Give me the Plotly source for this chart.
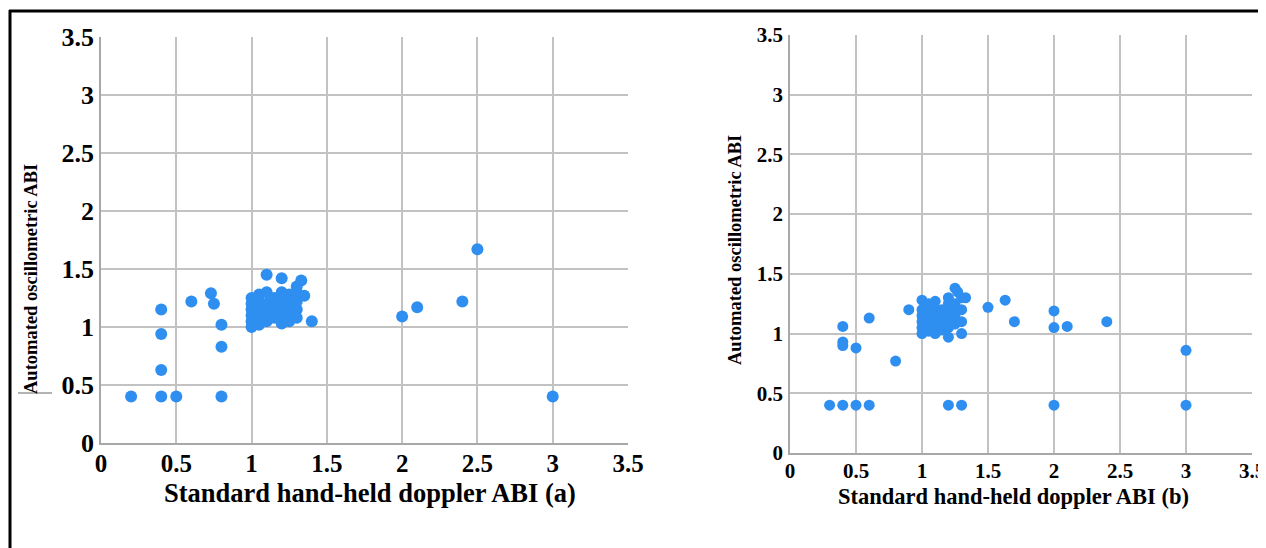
import plotly.graph_objects as go

# Panel (a): standard hand-held doppler ABI vs automated oscillometric ABI
a_x = [0.2, 0.4, 0.4, 0.4, 0.4, 0.5, 0.6, 0.73, 0.75, 0.8, 0.8, 0.8,
       1.0, 1.0, 1.0, 1.0, 1.0, 1.0,
       1.05, 1.05, 1.05, 1.05, 1.05, 1.05,
       1.1, 1.1, 1.1, 1.1, 1.1, 1.1,
       1.15, 1.15, 1.15, 1.15,
       1.2, 1.2, 1.2, 1.2, 1.2, 1.2, 1.2,
       1.25, 1.25, 1.25, 1.25,
       1.3, 1.3, 1.3, 1.3, 1.3,
       1.33, 1.35, 1.4,
       2.0, 2.1, 2.4, 2.5, 3.0]
a_y = [0.40, 1.15, 0.94, 0.63, 0.40, 0.40, 1.22, 1.29, 1.20, 1.02, 0.83, 0.40,
       1.0, 1.05, 1.1, 1.15, 1.2, 1.25,
       1.02, 1.08, 1.13, 1.18, 1.22, 1.28,
       1.05, 1.1, 1.15, 1.2, 1.3, 1.45,
       1.08, 1.12, 1.18, 1.25,
       1.03, 1.1, 1.15, 1.2, 1.25, 1.3, 1.42,
       1.05, 1.12, 1.2, 1.28,
       1.08, 1.15, 1.22, 1.3, 1.35,
       1.40, 1.27, 1.05,
       1.09, 1.17, 1.22, 1.67, 0.40]

# Panel (b)
b_x = [0.3, 0.4, 0.5, 0.6, 0.4, 0.4, 0.4, 0.5, 0.6, 0.8, 0.9,
       1.0, 1.0, 1.0, 1.0, 1.0, 1.0,
       1.05, 1.05, 1.05, 1.05, 1.05,
       1.1, 1.1, 1.1, 1.1, 1.1, 1.1,
       1.15, 1.15, 1.15, 1.15,
       1.2, 1.2, 1.2, 1.2, 1.2, 1.2, 1.2, 1.2,
       1.25, 1.25, 1.25, 1.25, 1.25, 1.27,
       1.3, 1.3, 1.3, 1.3, 1.3, 1.33,
       1.5, 1.63, 1.7, 2.0, 2.0, 2.0, 2.1, 2.4, 3.0, 3.0]
b_y = [0.40, 0.40, 0.40, 0.40, 1.06, 0.93, 0.90, 0.88, 1.13, 0.77, 1.20,
       1.0, 1.05, 1.1, 1.15, 1.2, 1.28,
       1.02, 1.08, 1.12, 1.18, 1.25,
       1.0, 1.05, 1.1, 1.15, 1.2, 1.27,
       1.03, 1.08, 1.13, 1.2,
       0.97, 1.05, 1.1, 1.15, 1.22, 1.3, 0.40, 1.25,
       1.08, 1.15, 1.2, 1.25, 1.38, 1.35,
       1.0, 1.1, 1.2, 1.3, 0.40, 1.30,
       1.22, 1.28, 1.10, 1.19, 1.05, 0.40, 1.06, 1.10, 0.86, 0.40]

tick_vals = [0, 0.5, 1, 1.5, 2, 2.5, 3, 3.5]
tick_text = ["0", "0.5", "1", "1.5", "2", "2.5", "3", "3.5"]

x_title_a = "Standard hand-held doppler ABI (a)"
x_title_b = "Standard hand-held doppler ABI (b)"
y_title = "Automated oscillometric ABI"

# page body has an 8px margin, so the figure is sized to fit the window
OFF = 8
W, H = 1266 - OFF, 548 - OFF
dot_color = "#2E8FF0"
grid_color = "#c2c2c2"
serif = "Liberation Serif, Times New Roman, serif"

fig = go.Figure()
fig.add_trace(go.Scatter(x=a_x, y=a_y, mode="markers", xaxis="x", yaxis="y",
                         marker=dict(size=12, color=dot_color), showlegend=False))
fig.add_trace(go.Scatter(x=b_x, y=b_y, mode="markers", xaxis="x2", yaxis="y2",
                         marker=dict(size=11, color=dot_color), showlegend=False))

def px_x(p):
    return (p - OFF) / W

def px_y(p):
    return 1 - (p - OFF) / H

axis_common = dict(range=[0, 3.5], tickvals=tick_vals, ticktext=tick_text,
                   showgrid=True, gridcolor=grid_color, gridwidth=1.5,
                   showline=True, linecolor="#a8a8a8", linewidth=1.5, mirror=False,
                   zeroline=False, ticks="", fixedrange=True, automargin=False)

font_a = dict(family=serif, size=26, color="black", weight="bold")
font_ax = dict(family=serif, size=25, color="black", weight="bold")
font_b = dict(family=serif, size=21, color="black", weight="bold")

fig.update_layout(
    template="none",
    width=W, height=H,
    margin=dict(l=0, r=0, t=0, b=0, pad=0),
    paper_bgcolor="white", plot_bgcolor="white",
    xaxis=dict(axis_common, domain=[px_x(101), px_x(628)], anchor="y",
               tickfont=font_ax, ticklabelstandoff=-3),
    yaxis=dict(axis_common, domain=[px_y(443), px_y(37)], anchor="x",
               tickfont=font_a, ticklabelstandoff=0),
    xaxis2=dict(axis_common, domain=[px_x(790), px_x(1252)], anchor="y2",
                tickfont=font_b, ticklabelstandoff=-2),
    yaxis2=dict(axis_common, domain=[px_y(453), px_y(35)], anchor="x2",
                tickfont=font_b, ticklabelstandoff=1),
    annotations=[
        dict(text=f"<b>{x_title_a}</b>", x=px_x(370), y=px_y(493), xref="paper", yref="paper",
             showarrow=False, font=dict(family=serif, size=26.5, color="black"),
             xanchor="center", yanchor="middle"),
        dict(text=f"<b>{x_title_b}</b>", x=px_x(1013), y=px_y(496), xref="paper", yref="paper",
             showarrow=False, font=dict(family=serif, size=22.5, color="black"),
             xanchor="center", yanchor="middle"),
        dict(text=f"<b>{y_title}</b>", x=px_x(31), y=px_y(279), xref="paper", yref="paper",
             showarrow=False, textangle=-90, font=dict(family=serif, size=18.5, color="black"),
             xanchor="center", yanchor="middle"),
        dict(text=f"<b>{y_title}</b>", x=px_x(735), y=px_y(250), xref="paper", yref="paper",
             showarrow=False, textangle=-90, font=dict(family=serif, size=18.5, color="black"),
             xanchor="center", yanchor="middle"),
    ],
    shapes=[
        dict(type="line", xref="paper", yref="paper", x0=px_x(9), x1=1, y0=px_y(11), y1=px_y(11),
             line=dict(color="black", width=3)),
        dict(type="line", xref="paper", yref="paper", x0=px_x(10), x1=px_x(10), y0=px_y(10), y1=0,
             line=dict(color="black", width=3)),
        dict(type="line", xref="paper", yref="paper", x0=px_x(18), x1=px_x(52), y0=px_y(393), y1=px_y(393),
             line=dict(color="#9a9a9a", width=1.5)),
    ],
)

fig.write_html("out.html")
